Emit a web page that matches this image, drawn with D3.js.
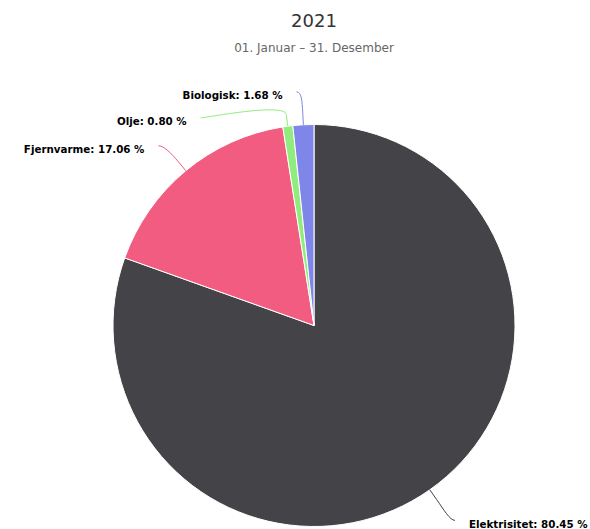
<!DOCTYPE html>
<html><head><meta charset="utf-8">
<script src="https://cdn.jsdelivr.net/npm/d3@7"></script>
<style>body{margin:0;background:#fff;}svg{display:block;}</style>
</head><body>
<svg id="c" width="590" height="529"></svg>
<script>
const categories = ["Elektrisitet", "Fjernvarme", "Olje", "Biologisk"];
const values = [80.45, 17.06, 0.80, 1.68];
const colors = ["#434348", "#f15c80", "#90ed7d", "#8085e9"];
const titleText = "2021";
const subtitleText = "01. Januar – 31. Desember";

const svg = d3.select("#c");
const cx = 314, cy = 325.5, r = 201;
const labelR = 236, breakR = r + 12, minGap = 26, extraX = 5, shiftY = 2, textGap = 14;

svg.append("text").attr("x", cx).attr("y", 26.5).attr("text-anchor", "middle")
  .attr("font-family", "DejaVu Sans").attr("font-size", 18).attr("fill", "#333333").text(titleText);
svg.append("text").attr("x", cx).attr("y", 52).attr("text-anchor", "middle")
  .attr("font-family", "DejaVu Sans").attr("font-size", 12).attr("fill", "#666666").text(subtitleText);

const data = categories.map((c, i) => ({ name: c, value: values[i], color: colors[i] }));
const pie = d3.pie().value(d => d.value).sort(null);
const arcs = pie(data);
const arc = d3.arc().innerRadius(0).outerRadius(r);

const g = svg.append("g").attr("transform", `translate(${cx},${cy})`);
g.selectAll("path.slice").data(arcs).enter().append("path")
  .attr("class", "slice").attr("d", arc)
  .attr("fill", d => d.data.color).attr("stroke", "#ffffff").attr("stroke-width", 1)
  .attr("stroke-linejoin", "round");

const labels = arcs.map(a => {
  const ang = (a.startAngle + a.endAngle) / 2;
  const left = Math.sin(ang) < 0;
  return { a, ang, left, y: -labelR * Math.cos(ang) };
});
[true, false].forEach(side => {
  const ls = labels.filter(l => l.left === side).sort((p, q) => p.y - q.y);
  for (let i = 1; i < ls.length; i++) {
    if (ls[i].y - ls[i - 1].y < minGap) ls[i].y = ls[i - 1].y + minGap;
  }
});
labels.forEach(l => {
  const dy = Math.max(-labelR, Math.min(labelR, l.y));
  l.x = (l.left ? -1 : 1) * (Math.sqrt(labelR * labelR - dy * dy) + extraX);
  l.y = l.y + shiftY;
  l.touch = [r * Math.sin(l.ang), -r * Math.cos(l.ang)];
  l.brk = [breakR * Math.sin(l.ang), -breakR * Math.cos(l.ang)];
});

g.selectAll("path.conn").data(labels).enter().append("path")
  .attr("class", "conn")
  .attr("d", l => {
    const p = d3.path();
    p.moveTo(l.x, l.y);
    p.bezierCurveTo(l.x + (l.left ? 5 : -5), l.y,
      2 * l.brk[0] - l.touch[0], 2 * l.brk[1] - l.touch[1],
      l.brk[0], l.brk[1]);
    p.lineTo(l.touch[0], l.touch[1]);
    return p.toString();
  })
  .attr("fill", "none").attr("stroke", l => l.a.data.color).attr("stroke-width", 1);

g.selectAll("text.lbl").data(labels).enter().append("text")
  .attr("class", "lbl")
  .attr("x", l => l.x + (l.left ? -textGap : textGap))
  .attr("y", l => l.y + 7.3)
  .attr("text-anchor", l => l.left ? "end" : "start")
  .attr("font-family", "DejaVu Sans").attr("font-weight", "bold").attr("font-size", 10.3)
  .attr("fill", "#000000")
  .text(l => `${l.a.data.name}: ${l.a.data.value.toFixed(2)} %`);
</script>
</body></html>
